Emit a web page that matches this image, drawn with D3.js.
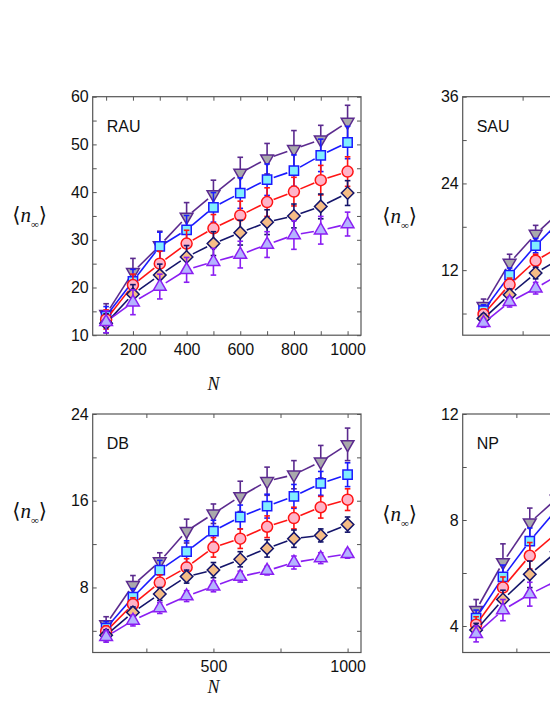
<!DOCTYPE html>
<html>
<head>
<meta charset="utf-8">
<script src="https://cdn.jsdelivr.net/npm/d3@7"></script>
<style>
  body { margin: 0; background: #fff; }
  svg { display: block; }
  .tick text { font-family: 'Liberation Sans', Arial, sans-serif; font-size: 16px; fill: #111; }
  .tick line { stroke: #555; }
</style>
</head>
<body>
<script>
// N values on the x axis
const nFull = [100, 200, 300, 400, 500, 600, 700, 800, 900, 1000];
const nPart = [100, 200, 300, 400]; // right panels are cut off by the page edge

// rows: down-triangle, square, circle, diamond, up-triangle
const rauMeans = [
    [14.4, 23.2, 28.8, 34.8, 39.5, 44.0, 47.0, 49.0, 51.0, 54.7],
    [14.0, 21.3, 28.6, 32.1, 36.8, 39.8, 42.6, 44.5, 47.7, 50.4],
    [13.3, 20.5, 25.0, 29.2, 32.4, 35.1, 37.9, 40.1, 42.5, 44.3],
    [12.5, 18.6, 22.6, 26.4, 29.2, 31.5, 33.7, 35.0, 37.0, 39.8],
    [12.8, 16.9, 20.2, 23.7, 25.4, 26.9, 29.0, 31.0, 32.0, 33.3]
];
const rauErrs = [
    [2.2, 2.9, 3.0, 3.0, 3.0, 3.3, 3.2, 3.9, 3.0, 3.5],
    [2.0, 2.5, 3.0, 3.0, 3.1, 3.2, 3.3, 3.3, 3.4, 3.4],
    [2.0, 2.3, 2.6, 2.8, 2.9, 3.0, 3.0, 3.0, 3.1, 3.1],
    [2.0, 2.0, 2.3, 2.4, 2.5, 2.6, 2.6, 2.5, 2.6, 2.6],
    [2.3, 2.6, 2.6, 2.6, 2.8, 2.8, 2.7, 3.0, 2.9, 2.5]
];

const dbMeans = [
    [4.6, 8.2, 10.4, 13.2, 14.8, 16.4, 17.8, 18.4, 19.6, 21.2],
    [4.25, 7.1, 9.6, 11.3, 13.2, 14.5, 15.5, 16.4, 17.6, 18.4],
    [3.95, 6.45, 8.45, 9.85, 11.7, 12.5, 13.6, 14.4, 15.4, 16.1],
    [3.6, 5.7, 7.4, 9.0, 9.6, 10.6, 11.6, 12.5, 12.8, 13.8],
    [3.45, 4.95, 6.1, 7.2, 8.1, 9.0, 9.55, 10.3, 10.7, 11.1]
];
const dbErrs = [
    [0.7, 0.9, 0.8, 1.1, 0.9, 1.4, 1.3, 1.3, 1.5, 1.5],
    [0.6, 0.8, 0.9, 1.0, 1.0, 1.1, 1.1, 1.1, 1.1, 1.1],
    [0.5, 0.6, 0.7, 0.8, 0.9, 0.9, 1.0, 1.0, 1.0, 1.0],
    [0.5, 0.5, 0.6, 0.6, 0.7, 0.7, 0.8, 0.8, 0.6, 0.7],
    [0.5, 0.5, 0.5, 0.5, 0.5, 0.5, 0.4, 0.6, 0.5, 0.4]
];

const sauMeans = [
    [7.0, 13.0, 17.0, 20.3],
    [6.4, 11.3, 15.4, 19.0],
    [5.9, 10.0, 13.3, 15.4],
    [5.3, 8.6, 11.6, 13.7],
    [4.7, 7.6, 9.5, 11.6]
];
const sauErrs = [
    [1.0, 1.2, 1.2, 1.3],
    [0.8, 1.0, 1.0, 1.1],
    [0.7, 0.9, 0.9, 1.0],
    [0.6, 0.8, 0.8, 0.8],
    [0.6, 0.7, 0.8, 0.8]
];

const npMeans = [
    [4.6, 6.4, 7.9, 8.8],
    [4.3, 5.85, 7.2, 8.4],
    [4.05, 5.45, 6.65, 7.5],
    [3.85, 5.0, 5.95, 6.8],
    [3.7, 4.6, 5.2, 5.7]
];
const npErrs = [
    [0.4, 0.7, 0.55, 0.6],
    [0.3, 0.45, 0.5, 0.5],
    [0.3, 0.4, 0.5, 0.5],
    [0.25, 0.35, 0.5, 0.4],
    [0.3, 0.4, 0.45, 0.4]
];

// ticks
const rauXTicks = [100, 200, 300, 400, 500, 600, 700, 800, 900, 1000];
const rauXLabels = [200, 400, 600, 800, 1000];
const rauYTicks = [10, 15, 20, 25, 30, 35, 40, 45, 50, 55, 60];
const rauYLabels = [10, 20, 30, 40, 50, 60];
const dbXTicks = [250, 500, 750, 1000];
const dbXLabels = [500, 1000];
const dbYTicks = [4, 8, 12, 16, 20, 24];
const dbYLabels = [8, 16, 24];
const sauYTicks = [6, 12, 18, 24, 30, 36];
const sauYLabels = [12, 24, 36];
const npYTicks = [4, 6, 8, 10, 12];
const npYLabels = [4, 8, 12];

const styles = [
    {kind: 'down', fill: '#a9a9ab', stroke: '#5b2a8e'},
    {kind: 'square', fill: '#80eeff', stroke: '#1a1aff'},
    {kind: 'circle', fill: '#ffb4c8', stroke: '#ff1414'},
    {kind: 'diamond', fill: '#f5bd86', stroke: '#14146a'},
    {kind: 'up', fill: '#b4b4ff', stroke: '#8a1ef2'}
];

const panels = [
    {label: 'RAU', n: nFull, means: rauMeans, errs: rauErrs, left: 92.7, top: 96.7,
        xDomain: [50, 1050], xTicks: rauXTicks, xLabels: rauXLabels,
        yDomain: [10, 60], yTicks: rauYTicks, yLabels: rauYLabels, yTitle: 222, nTitle: 390},
    {label: 'SAU', n: nPart, means: sauMeans, errs: sauErrs, left: 462.7, top: 96.7,
        xDomain: [20, 1050], xTicks: dbXTicks, xLabels: dbXLabels,
        yDomain: [3, 36], yTicks: sauYTicks, yLabels: sauYLabels, yTitle: 223, nTitle: 390},
    {label: 'DB', n: nFull, means: dbMeans, errs: dbErrs, left: 92.7, top: 414,
        xDomain: [50, 1050], xTicks: dbXTicks, xLabels: dbXLabels,
        yDomain: [2, 24], yTicks: dbYTicks, yLabels: dbYLabels, yTitle: 518, nTitle: 693},
    {label: 'NP', n: nPart, means: npMeans, errs: npErrs, left: 462.7, top: 414,
        xDomain: [50, 1050], xTicks: dbXTicks, xLabels: dbXLabels,
        yDomain: [3, 12], yTicks: npYTicks, yLabels: npYLabels, yTitle: 521, nTitle: 693}
];

const W = 550;
const H = 711;
const pw = 268.3;
const ph = 238.5;
const tickLen = 4;
const gap = 7;

const svg = d3.select('body').append('svg')
    .attr('width', W)
    .attr('height', H);

function markerPath(kind) {
    if (kind === 'square') return d3.symbol(d3.symbolSquare, 86)();
    if (kind === 'circle') return d3.symbol(d3.symbolCircle, 95)();
    if (kind === 'diamond') return d3.symbol(d3.symbolSquare, 78)();
    return d3.symbol(d3.symbolTriangle, 70)();
}

function markerRot(kind) {
    if (kind === 'down') return ' rotate(180)';
    if (kind === 'diamond') return ' rotate(45)';
    return '';
}

panels.forEach(function(p) {
    const g = svg.append('g')
        .attr('transform', 'translate(' + p.left + ',' + p.top + ')');
    const x = d3.scaleLinear().domain(p.xDomain).range([0, pw]);
    const y = d3.scaleLinear().domain(p.yDomain).range([ph, 0]);

    // labels only where they land inside the page (right panels run off the edge)
    const fmtX = function(d) {
        return p.xLabels.indexOf(d) >= 0 && p.left + x(d) < W - 10 ? d : '';
    };
    const fmtY = function(d) { return p.yLabels.indexOf(d) >= 0 ? d : ''; };

    // axes with inward ticks on all four sides
    g.append('g').attr('transform', 'translate(0,' + ph + ')')
        .call(d3.axisBottom(x).tickValues(p.xTicks).tickSizeInner(-tickLen).tickSizeOuter(0).tickPadding(8).tickFormat(fmtX));
    g.append('g')
        .call(d3.axisTop(x).tickValues(p.xTicks).tickSizeInner(-tickLen).tickSizeOuter(0).tickFormat(''));
    g.append('g')
        .call(d3.axisLeft(y).tickValues(p.yTicks).tickSizeInner(-tickLen).tickSizeOuter(0).tickPadding(4).tickFormat(fmtY));
    g.append('g').attr('transform', 'translate(' + pw + ',0)')
        .call(d3.axisRight(y).tickValues(p.yTicks).tickSizeInner(-tickLen).tickSizeOuter(0).tickFormat(''));
    g.selectAll('.domain').remove();
    g.selectAll('.tick text').filter(function() { return this.textContent === ''; }).remove();

    g.append('rect')
        .attr('width', pw)
        .attr('height', ph)
        .attr('fill', 'none')
        .attr('stroke', '#555')
        .attr('stroke-width', 1.2);

    g.append('text')
        .attr('x', 14)
        .attr('y', 35)
        .attr('font-family', "'Liberation Sans', Arial, sans-serif")
        .attr('font-size', 16)
        .attr('fill', '#111')
        .text(p.label);

    p.means.forEach(function(row, si) {
        const st = styles[si];
        const sg = g.append('g');
        const pts = row.map(function(v, i) {
            return {x: x(p.n[i]), y: y(v), lo: y(v - p.errs[si][i]), hi: y(v + p.errs[si][i])};
        });

        // connecting segments with a small gap around the symbols
        d3.pairs(pts).forEach(function(pr) {
            const a = pr[0], b = pr[1];
            const dx = b.x - a.x, dy = b.y - a.y;
            const len = Math.sqrt(dx * dx + dy * dy);
            if (len <= 2 * gap) return;
            const ux = dx / len, uy = dy / len;
            sg.append('line')
                .attr('x1', a.x + ux * gap).attr('y1', a.y + uy * gap)
                .attr('x2', b.x - ux * gap).attr('y2', b.y - uy * gap)
                .attr('stroke', st.stroke)
                .attr('stroke-width', 1.6);
        });

        // error bars
        const eb = sg.selectAll('.eb').data(pts).enter().append('g')
            .attr('stroke', st.stroke)
            .attr('stroke-width', 1.6);
        eb.append('line')
            .attr('x1', function(d) { return d.x; }).attr('x2', function(d) { return d.x; })
            .attr('y1', function(d) { return d.lo; }).attr('y2', function(d) { return d.hi; });
        eb.append('line')
            .attr('x1', function(d) { return d.x - 2.8; }).attr('x2', function(d) { return d.x + 2.8; })
            .attr('y1', function(d) { return d.hi; }).attr('y2', function(d) { return d.hi; });
        eb.append('line')
            .attr('x1', function(d) { return d.x - 2.8; }).attr('x2', function(d) { return d.x + 2.8; })
            .attr('y1', function(d) { return d.lo; }).attr('y2', function(d) { return d.lo; });

        sg.selectAll('.mk').data(pts).enter().append('path')
            .attr('d', markerPath(st.kind))
            .attr('transform', function(d) {
                return 'translate(' + d.x + ',' + d.y + ')' + markerRot(st.kind);
            })
            .attr('fill', st.fill)
            .attr('stroke', st.stroke)
            .attr('stroke-width', 1.5);
    });

    // y title <n_inf>
    const yt = svg.append('text')
        .attr('x', p.left - 63)
        .attr('y', p.yTitle)
        .attr('text-anchor', 'middle')
        .attr('font-family', "'Liberation Serif', 'DejaVu Serif', serif")
        .attr('font-size', 21)
        .attr('fill', '#111');
    yt.append('tspan').text('\u27E8');
    yt.append('tspan').attr('font-style', 'italic').text('n');
    yt.append('tspan').attr('font-size', 11).attr('dy', 6).text('\u221E');
    yt.append('tspan').attr('dy', -6).text('\u27E9');

    const nx = p.left + x(500);
    if (nx < W - 10) {
        svg.append('text')
            .attr('x', nx)
            .attr('y', p.nTitle)
            .attr('text-anchor', 'middle')
            .attr('font-family', "'Liberation Serif', serif")
            .attr('font-style', 'italic')
            .attr('font-size', 18)
            .attr('fill', '#111')
            .text('N');
    }
});
</script>
</body>
</html>
